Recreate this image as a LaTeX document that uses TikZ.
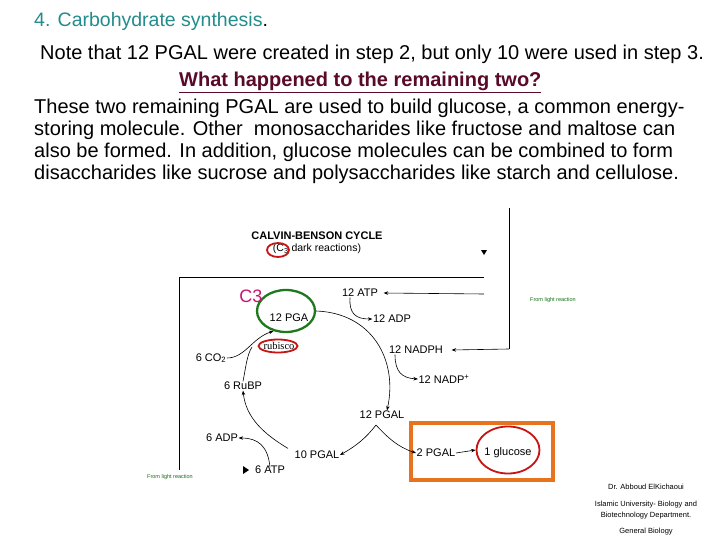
\documentclass[tikz,border=0pt]{standalone}
\usepackage{fontspec}
\setmainfont{Liberation Sans}
\newfontfamily\rmserif{Liberation Serif}
\usetikzlibrary{arrows.meta,shapes.geometric}
\definecolor{teal1}{RGB}{35,140,140}
\definecolor{maroon1}{RGB}{90,10,40}
\definecolor{mag}{RGB}{200,20,110}
\definecolor{grn}{RGB}{30,120,30}
\definecolor{orng}{RGB}{232,115,31}
\definecolor{redc}{RGB}{200,20,20}
\definecolor{lgreen}{RGB}{20,110,20}
\begin{document}
\begin{tikzpicture}[x=1pt,y=-1pt,
  body/.style={font=\fontsize{20}{22}\selectfont, inner sep=0pt, anchor=base west},
  lbl/.style={font=\fontsize{11}{13}\selectfont, inner sep=0.5pt},
  tiny/.style={font=\fontsize{5.5}{6}\selectfont, text=lgreen, inner sep=0pt},
  cred/.style={font=\fontsize{7.5}{8}\selectfont, inner sep=0pt},
  arr/.style={-{Stealth[length=4.5pt,width=3.5pt]}, line width=0.6pt},
  ln/.style={line width=0.8pt},
  ring/.style={ellipse, draw=redc, line width=1.8pt, inner sep=0pt}
]
\useasboundingbox (0,0) rectangle (720,540);
\fill[white] (0,0) rectangle (720,540);

% ---------- text ----------
\node[body, font=\fontsize{19.5}{22}\selectfont] (title) at (34,27) {\textcolor{teal1}{4. Carbohydrate synthesis}.};
\node[body] (note) at (40,60) {Note that 12 PGAL were created in step 2, but only 10 were used in step 3.};
\node[body, font=\fontsize{20}{22}\selectfont\bfseries, text=maroon1] (what) at (179,87) {\underline{What happened to the remaining two?}};
\node[body] (p1) at (34,114) {These two remaining PGAL are used to build glucose, a common energy-};
\node[body] (p2) at (34,136) {storing molecule. Other\ \ monosaccharides like fructose and maltose can};
\node[body] (p3) at (34,158) {also be formed. In addition, glucose molecules can be combined to form};
\node[body] (p4) at (34,180) {disaccharides like sucrose and polysaccharides like starch and cellulose.};

% ---------- diagram header ----------
\node[lbl, font=\fontsize{11}{13}\selectfont\bfseries] (cbc) at (317,236) {CALVIN-BENSON CYCLE};
\node[lbl, font=\fontsize{10.5}{12}\selectfont] (dark) at (317,249) {(C\textsubscript{3} dark reactions)};
\node[ring, minimum width=22pt, minimum height=14pt] (c3ring) at (278,250) {};
\fill (481,250) -- (487,250) -- (484,255) -- cycle;

% frame lines
\coordinate (r1) at (509,208);
\coordinate (r2) at (509,349);
\coordinate (t1) at (179,277);
\coordinate (t2) at (484,277);
\coordinate (l1) at (179,470);
\coordinate (a0) at (484,294);
\draw[ln] (r1) -- (r2);
\draw[ln] (t1) -- (t2);
\draw[ln] (t1) -- (l1);

% ---------- cycle labels ----------
\node[lbl] (atp) at (360,293) {12 ATP};
\node[lbl] (adp) at (392,319) {12 ADP};
\node[lbl] (nadph) at (416,350) {12 NADPH};
\node[lbl] (nadp) at (444,379) {12 NADP\textsuperscript{+}};
\node[lbl] (pgal12) at (382,415) {12 PGAL};
\node[lbl] (pgal10) at (317,455) {10 PGAL};
\node[lbl] (pgal2) at (436,453) {2 PGAL};
\node[lbl] (gluc) at (508,453) {1 glucose};
\node[lbl] (atp6) at (270,470) {6 ATP};
\node[lbl] (adp6) at (222,438) {6 ADP};
\node[lbl] (rubp) at (243,386) {6 RuBP};
\node[lbl] (co2) at (211,358) {6 CO\textsubscript{2}};
\node[lbl] (pga) at (289,318) {12 PGA};
\node[lbl, font=\rmserif\fontsize{10.5}{12}\selectfont] (rubisco) at (279,346) {rubisco};
\node[ring, minimum width=39pt, minimum height=13pt] (rubring) at (278,346) {};
\node[ellipse, draw=grn, line width=2.3pt, minimum width=58pt, minimum height=42pt, inner sep=0pt] (pgaell) at (286,311) {};
\node[lbl, font=\fontsize{18}{20}\selectfont, text=mag] (c3) at (251,296) {C3};
\node[ring, minimum width=63pt, minimum height=47pt] (glucring) at (508,450) {};
\node[draw=orng, line width=4.5pt, minimum width=142pt, minimum height=57pt, inner sep=0pt] (box) at (482,451.5) {};

\node[tiny] (from1) at (553,300) {From light reaction};
\node[tiny] (from2) at (170,477) {From light reaction};

% ---------- arrows ----------
\draw[arr] (a0) -- ([xshift=5pt]atp.east);
\draw[arr] (r2) -- ([xshift=8pt]nadph.east);
\draw[arr] ([xshift=-10pt]atp.south) .. controls (349,314) and (356,319) .. (adp.west);
\draw[arr] ([xshift=-21pt]nadph.south) .. controls (395,372) and (402,378) .. (nadp.west);
\draw[arr] (pgaell.east) .. controls (372,313) and (398,360) .. ([xshift=5pt]pgal12.north);
\coordinate (split) at (376,425);
\draw[arr] (split) .. controls (366,438) and (356,446) .. (pgal10.east);
\draw[arr] (split) .. controls (388,438) and (398,447) .. (pgal2.west);
\draw[arr] (pgal2.east) -- (glucring.west);
\draw[arr] ([xshift=-6pt,yshift=2pt]pgal10.north west) .. controls (264,434) and (246,418) .. (rubp.south);
\draw[arr] ([yshift=-2pt]atp6.north) .. controls (268,446) and (258,438) .. (adp6.east);
\fill (243,466) -- (249,470) -- (243,474) -- cycle;
\draw[arr] (co2.east) .. controls (245,358) and (252,338) .. (pgaell.238);
\coordinate (join) at (252,347);
\draw[line width=0.6pt] (rubp.north) .. controls (246,366) and (247,355) .. (join);

% ---------- credits ----------
\node[cred] (cr1) at (646,487) {Dr. Abboud ElKichaoui};
\node[cred] (cr2) at (646,505) {Islamic University- Biology and};
\node[cred] (cr3) at (646,516) {Biotechnology Department.};
\node[cred] (cr4) at (646,532) {General Biology};
\end{tikzpicture}
\end{document}
